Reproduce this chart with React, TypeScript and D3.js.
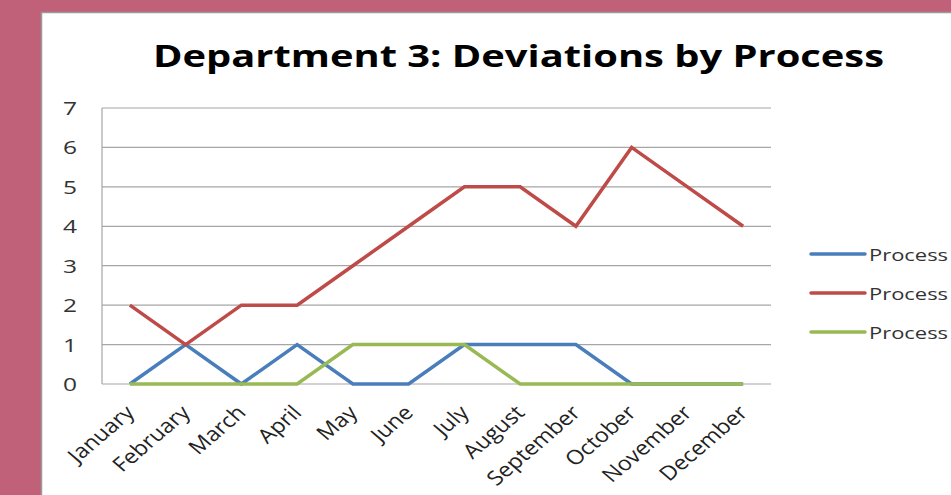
import React from "react";
import * as d3 from "d3";

const months = ["January","February","March","April","May","June","July","August","September","October","November","December"];
const process1 = [0,1,0,1,0,0,1,1,1,0,0,0];
const process2 = [2,1,2,2,3,4,5,5,4,6,5,4];
const process3 = [0,0,0,0,1,1,1,0,0,0,0,0];
const seriesNames = ["Process 1","Process 2","Process 3"];
const seriesColors = ["#4a7ebb","#be4b48","#98b954"];
const yTicks = [0,1,2,3,4,5,6,7];

export default function App() {
  const W = 951, H = 495;
  const sx = 1.29;
  const left = 102, right = 771, top = 108, bottom = 384;
  const x = d3.scaleBand<string>().domain(months).range([left, right]);
  const y = d3.scaleLinear().domain([0, 7]).range([bottom, top]);
  const line = d3.line<number>().x((_, i) => (x(months[i]) as number) + x.bandwidth() / 2).y(d => y(d));
  const all = [process1, process2, process3];
  const font = "'Open Sans', 'Noto Sans', sans-serif";
  return (
    <svg width={W} height={H} style={{ position: "fixed", left: 0, top: 0 }}>
      <rect x={0} y={0} width={W} height={H} fill="#c06079" />
      <rect x={41.5} y={12.5} width={W} height={H} fill="#ffffff" stroke="#9a9a9a" strokeWidth={1.5} />
      <text x={153} y={67} textLength={731} lengthAdjust="spacingAndGlyphs" fontFamily={font} fontWeight="bold" fontSize={31} fill="#000">
        Department 3: Deviations by Process
      </text>
      {yTicks.map(t => (
        <g key={t}>
          <line x1={left} x2={right} y1={y(t)} y2={y(t)} stroke="#a6a6a6" strokeWidth={1.2} />
          <text transform={`translate(77,${y(t) + 7}) scale(${sx},1)`} textAnchor="end" fontFamily={font} fontSize={19} fill="#333">{t}</text>
        </g>
      ))}
      <line x1={left} x2={left} y1={top} y2={bottom} stroke="#a6a6a6" strokeWidth={1.2} />
      {months.map(m => {
        const cx = (x(m) as number) + x.bandwidth() / 2;
        return (
          <text key={m} transform={`translate(${cx},${bottom + 25}) scale(1.17,1) rotate(-45)`} textAnchor="end"
            fontFamily={font} fontSize={20} fill="#222" dy="0.35em">{m}</text>
        );
      })}
      {all.map((s, i) => (
        <path key={i} d={line(s) || ""} fill="none" stroke={seriesColors[i]} strokeWidth={3.5} strokeLinejoin="miter" />
      ))}
      {seriesNames.map((n, i) => (
        <g key={n} transform={`translate(0,${254 + i * 39})`}>
          <line x1={811} x2={865} y1={0} y2={0} stroke={seriesColors[i]} strokeWidth={3.5} strokeLinecap="round" />
          <text transform={`translate(869,6.5) scale(${sx},1)`} fontFamily={font} fontSize={17} fill="#333">{n}</text>
        </g>
      ))}
    </svg>
  );
}
